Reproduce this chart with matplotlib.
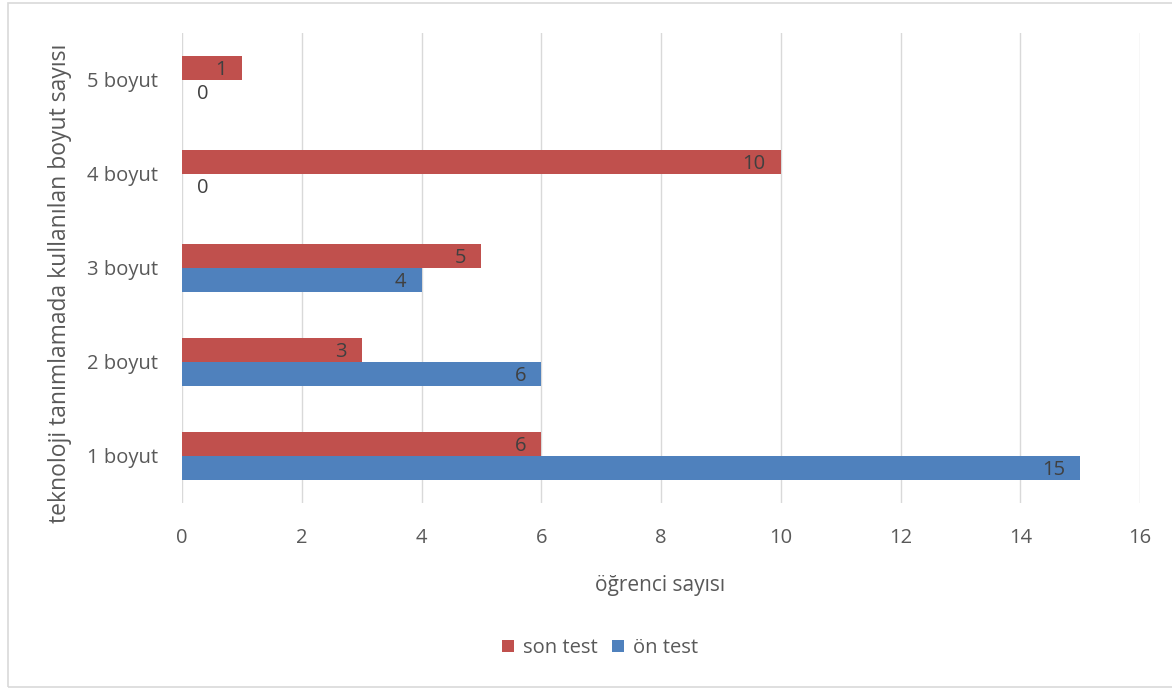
import numpy as np
import matplotlib
matplotlib.use("Agg")
import matplotlib.pyplot as plt
from matplotlib.patches import Rectangle

# data
categories = ["1 boyut", "2 boyut", "3 boyut", "4 boyut", "5 boyut"]
son_test = [6, 3, 5, 10, 1]
on_test = [15, 6, 4, 0, 0]
series_names = ["son test", "ön test"]
x_ticks = [0, 2, 4, 6, 8, 10, 12, 14, 16]

RED = "#C0504D"
BLUE = "#4F81BD"
TEXT = "#595959"
LABEL = "#404040"
W, H = 1172, 690

plt.rcParams["font.family"] = ["Open Sans", "DejaVu Sans"]

fig = plt.figure(figsize=(W / 100, H / 100), dpi=100)
ax = fig.add_axes([182 / W, 1 - 503 / H, (1140 - 182) / W, 470 / H])

# outer chart border
fig.patches.append(Rectangle((8 / W, 3 / H), 1.1, 684 / H, transform=fig.transFigure,
                             fill=False, edgecolor="#D9D9D9", linewidth=1.2))

y = np.arange(len(categories))
h = 0.255
bars_son = ax.barh(y + h / 2, son_test, height=h, color=RED, label=series_names[0])
bars_on = ax.barh(y - h / 2, on_test, height=h, color=BLUE, label=series_names[1])

# value labels, inside end like excel
for bars in (bars_son, bars_on):
    for bar in bars:
        v = bar.get_width()
        cy = bar.get_y() + bar.get_height() / 2
        if v > 0:
            ax.annotate(str(int(v)), (v, cy), xytext=(-15, -2), textcoords="offset pixels",
                        ha="right", va="center", fontsize=14.5, color=LABEL)
        else:
            ax.annotate("0", (0, cy), xytext=(15, -2), textcoords="offset pixels",
                        ha="left", va="center", fontsize=14.5, color=LABEL)

ax.set_xlim(0, 16)
ax.set_ylim(-0.5, len(categories) - 0.5)
ax.set_xticks(x_ticks)
ax.set_yticks(y)
ax.set_yticklabels(categories)
ax.tick_params(axis="both", length=0, labelsize=14.5, colors=TEXT)
ax.tick_params(axis="x", pad=18)
ax.tick_params(axis="y", pad=17)
ax.grid(axis="x", color="#D9D9D9", linewidth=1)
ax.set_axisbelow(True)
for s in ax.spines.values():
    s.set_visible(False)

fig.text(660 / W, 1 - 585 / H, "öğrenci sayısı", fontsize=15, color=TEXT,
         ha="center", va="center")
fig.text(60 / W, 1 - 283 / H, "teknoloji tanımlamada kullanılan boyut sayısı", fontsize=16.5,
         color=TEXT, ha="center", va="center", rotation=90)

fig.legend(handles=[bars_son, bars_on], labels=series_names, loc="center",
           bbox_to_anchor=(600 / W, 1 - 648 / H), ncol=2, frameon=False,
           fontsize=14.5, handlelength=0.6, handleheight=0.6, handletextpad=0.4,
           columnspacing=0.75, labelcolor=TEXT)

fig.savefig("out.png", dpi=100)
